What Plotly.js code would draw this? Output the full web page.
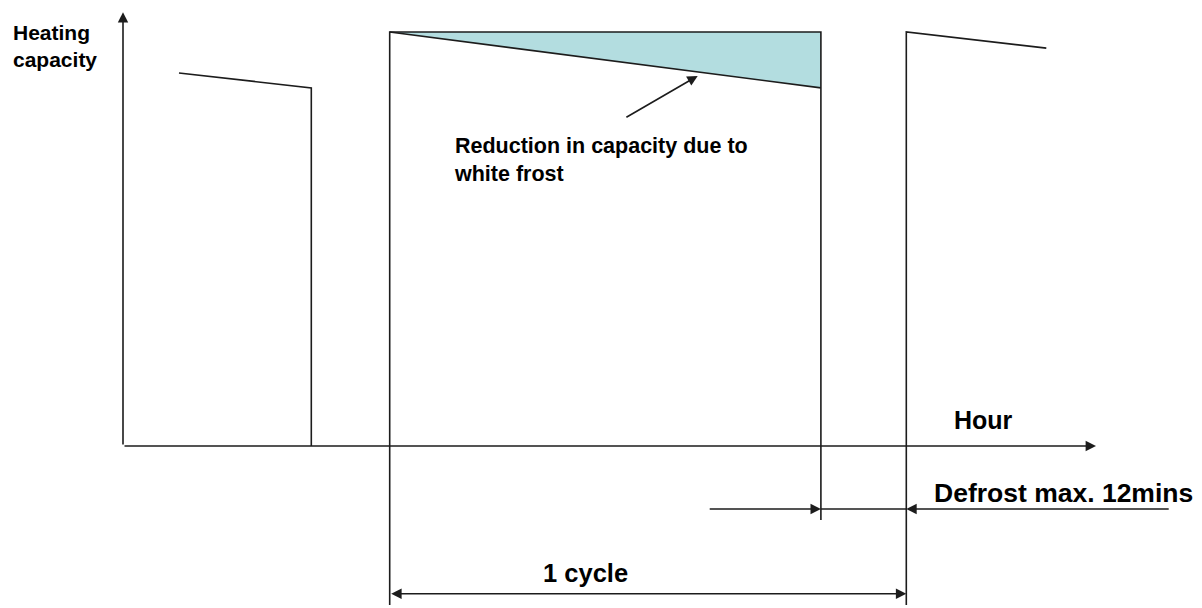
<!DOCTYPE html>
<html>
<head>
<meta charset="utf-8">
<script src="https://cdn.plot.ly/plotly-3.0.1.min.js"></script>
<style>html,body{margin:0;padding:0;background:#fff;}#chart{width:1202px;height:608px;}</style>
</head>
<body>
<div id="chart"></div>
<script>
// Time in minutes, capacity in % of capacity at start of a heating run
const prevRunTime = [8.0, 26.9];
const prevRunCap = [90.1, 86.5];
const runTime = [38.1, 99.7];       // heating run of the shown cycle
const runCap = [100, 86.5];         // capacity at start / end of run (frost build-up)
const nextRunTime = [111.9, 131.9];
const nextRunCap = [100, 96.1];
const defrostTime = [99.7, 111.9];  // defrost period (max. 12 mins)
const axisTip = [139, 104.8];       // x-axis tip (min), y-axis tip (%)
const guideLow = [-38.4, -17.9];    // lower ends of extension lines
const dimLevels = [-15.2, -35.7];   // defrost dimension, cycle dimension
const defrostTails = [83.6, 149.6];
const frostArrow = {t: [71.7, 82.1], cap: [79.2, 89.4]};
const labels = {
  yTitle: 'Heating<br>capacity',
  xTitle: 'Hour',
  frost: 'Reduction in capacity due to<br>white frost',
  defrost: 'Defrost max. 12mins',
  cycle: '1 cycle'
};

const ink = '#1c1c1c';
const lw = 1.6;
const line = {color: ink, width: lw};

const traces = [
  { // frost loss area
    x: [runTime[0], runTime[1], runTime[1], runTime[0]],
    y: [runCap[0], runCap[0], runCap[1], runCap[0]],
    mode: 'lines', fill: 'toself', fillcolor: '#b3dde0',
    line: {width: 0}, hoverinfo: 'skip'
  },
  { // previous run
    x: [prevRunTime[0], prevRunTime[1], prevRunTime[1]],
    y: [prevRunCap[0], prevRunCap[1], 0],
    mode: 'lines', line: line
  },
  { // current run outline (ideal capacity)
    x: [runTime[0], runTime[0], runTime[1], runTime[1]],
    y: [guideLow[0], runCap[0], runCap[0], guideLow[1]],
    mode: 'lines', line: line
  },
  { // actual capacity with frost
    x: runTime, y: runCap, mode: 'lines', line: line
  },
  { // next run
    x: [nextRunTime[0], nextRunTime[0], nextRunTime[1]],
    y: [guideLow[0], nextRunCap[0], nextRunCap[1]],
    mode: 'lines', line: line
  },
  { // defrost span
    x: defrostTime, y: [dimLevels[0], dimLevels[0]],
    mode: 'lines', line: line
  }
];

function arrow(x0, y0, x1, y1, extra) {
  return Object.assign({
    x: x1, y: y1, ax: x0, ay: y0, xref: 'x', yref: 'y', axref: 'x', ayref: 'y',
    text: '', showarrow: true, arrowhead: 2, arrowsize: 1.3, arrowwidth: lw,
    arrowcolor: ink, standoff: 0, startstandoff: 0
  }, extra || {});
}
function label(x, y, text, size, xanchor, extra) {
  return Object.assign({
    x: x, y: y, xref: 'x', yref: 'y', text: text, showarrow: false,
    xanchor: xanchor, yanchor: 'middle', align: 'left',
    font: {family: 'Liberation Sans, Arial, sans-serif', size: size, color: '#000', weight: 'bold'}
  }, extra || {});
}

const annotations = [
  arrow(0, 0, axisTip[0], 0),
  arrow(0, 0, 0, axisTip[1]),
  arrow(defrostTails[0], dimLevels[0], defrostTime[0], dimLevels[0]),
  arrow(defrostTails[1], dimLevels[0], defrostTime[1], dimLevels[0]),
  arrow(runTime[0], dimLevels[1], nextRunTime[0], dimLevels[1], {arrowside: 'end+start'}),
  arrow(frostArrow.t[0], frostArrow.cap[0], frostArrow.t[1], frostArrow.cap[1]),
  label(-16.0, 96.6, '<b>' + labels.yTitle + '</b>', 21, 'left'),
  label(47.0, 69.0, '<b>' + labels.frost + '</b>', 21.5, 'left'),
  label(122.9, 6.3, '<b>' + labels.xTitle + '</b>', 25, 'center'),
  label(134.3, -11.4, '<b>' + labels.defrost + '</b>', 26.5, 'center'),
  label(66.0, -30.7, '<b>' + labels.cycle + '</b>', 25.5, 'center')
];

const layout = {
  width: 1202, height: 608,
  margin: {l: 0, r: 0, t: 0, b: 0, pad: 0},
  paper_bgcolor: '#fff', plot_bgcolor: '#fff',
  showlegend: false,
  xaxis: {range: [-123 / 7, 1079 / 7], visible: false, fixedrange: true},
  yaxis: {range: [-162 / 4.14, 446 / 4.14], visible: false, fixedrange: true},
  annotations: annotations
};

Plotly.newPlot('chart', traces, layout, {staticPlot: true, displayModeBar: false});
</script>
</body>
</html>
